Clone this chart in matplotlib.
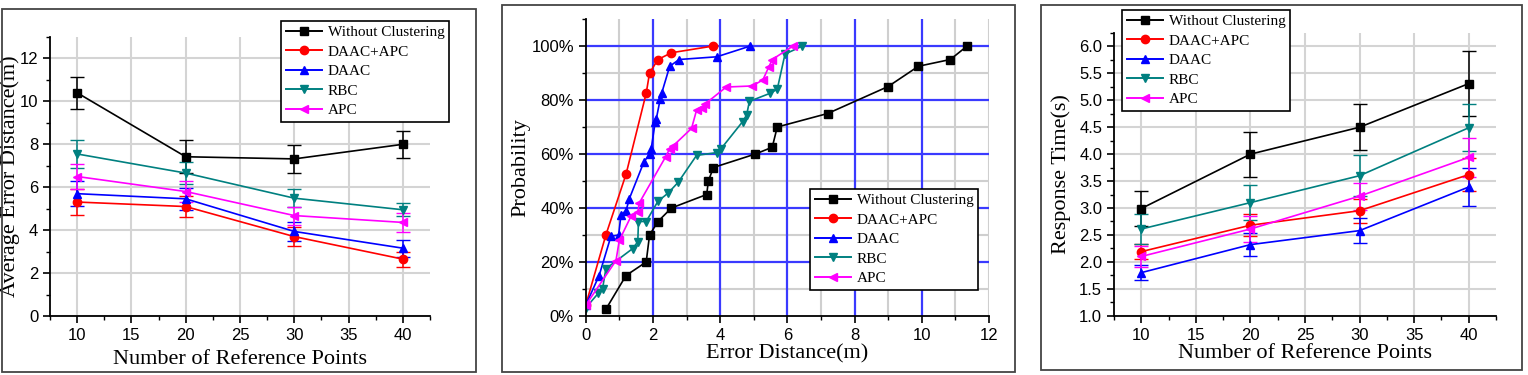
import matplotlib
matplotlib.use("Agg")
import matplotlib.pyplot as plt
from matplotlib.lines import Line2D
from matplotlib.patches import Rectangle
from matplotlib.ticker import MultipleLocator, PercentFormatter

# ---- data ---------------------------------------------------------------
ref_points = [10, 20, 30, 40]
labels = ["Without Clustering", "DAAC+APC", "DAAC", "RBC", "APC"]

# panel 1: average error distance (m)
err_mean = {
    "Without Clustering": [10.4, 7.42, 7.32, 8.0],
    "DAAC+APC":           [5.31, 5.1, 3.7, 2.65],
    "DAAC":               [5.7, 5.46, 3.94, 3.16],
    "RBC":                [7.55, 6.66, 5.49, 4.95],
    "APC":                [6.5, 5.8, 4.68, 4.36],
}
err_sd = {
    "Without Clustering": [0.74, 0.78, 0.67, 0.63],
    "DAAC+APC":           [0.59, 0.5, 0.43, 0.35],
    "DAAC":               [0.57, 0.5, 0.45, 0.39],
    "RBC":                [0.67, 0.5, 0.42, 0.3],
    "APC":                [0.6, 0.47, 0.42, 0.45],
}

# panel 2: CDF of error distance
cdf_x = {
    "Without Clustering": [0.6, 1.2, 1.8, 1.9, 2.15, 2.55, 3.6, 3.65, 3.8, 5.05, 5.55, 5.7,
                           7.2, 9.0, 9.9, 10.85, 11.35],
    "DAAC+APC": [0.0, 0.6, 1.2, 1.8, 1.9, 2.15, 2.55, 3.8],
    "DAAC": [0.0, 0.4, 0.75, 0.98, 1.05, 1.2, 1.3, 1.73, 1.9, 1.95, 2.07, 2.1, 2.22, 2.26,
             2.5, 2.78, 3.9, 4.9],
    "RBC": [0.0, 0.38, 0.5, 0.6, 1.4, 1.55, 1.57, 1.8, 2.15, 2.45, 2.75, 3.3, 3.9, 4.03,
            4.67, 4.79, 4.87, 5.49, 5.7, 5.93, 6.45],
    "APC": [0.0, 0.9, 1.0, 1.35, 1.55, 1.6, 2.38, 2.5, 2.6, 3.15, 3.3, 3.45, 3.55, 4.18,
            4.95, 5.27, 5.45, 5.55, 6.17],
}
cdf_p = {
    "Without Clustering": [2.5, 15, 20, 30, 35, 40, 45, 50, 55, 60, 62.5, 70, 75, 85, 92.5,
                           95, 100],
    "DAAC+APC": [4, 30, 52.5, 82.5, 90, 95, 97.5, 100],
    "DAAC": [4, 15, 29.5, 30, 37.5, 39, 43.5, 57, 60, 62, 72, 73, 80.5, 82.5, 92.5, 95, 96,
             100],
    "RBC": [3, 8.5, 10, 17.5, 25, 27.5, 35, 35, 42.5, 45.5, 49.5, 59.5, 60.5, 62, 72, 74.5,
            79.5, 82.5, 84, 97, 100],
    "APC": [4, 20.5, 28, 37, 38.5, 42, 59, 62, 63, 69.5, 76.3, 77, 78.5, 84.8, 85.2, 87.4,
            92.3, 95, 100],
}

# panel 3: response time (s)
rt_mean = {
    "Without Clustering": [2.99, 4.0, 4.5, 5.31],
    "DAAC+APC":           [2.19, 2.68, 2.95, 3.62],
    "DAAC":               [1.8, 2.32, 2.58, 3.39],
    "RBC":                [2.61, 3.1, 3.6, 4.49],
    "APC":                [2.1, 2.61, 3.22, 3.94],
}
rt_sd = {
    "Without Clustering": [0.33, 0.42, 0.43, 0.61],
    "DAAC+APC":           [0.14, 0.2, 0.22, 0.3],
    "DAAC":               [0.14, 0.21, 0.23, 0.35],
    "RBC":                [0.27, 0.32, 0.38, 0.44],
    "APC":                [0.2, 0.25, 0.25, 0.36],
}

colors = {"Without Clustering": "black", "DAAC+APC": "#ff0000", "DAAC": "#0000ff",
          "RBC": "#008080", "APC": "#ff00ff"}
markers = {"Without Clustering": "s", "DAAC+APC": "o", "DAAC": "^", "RBC": "v", "APC": "<"}

SERIF = "Liberation Serif"
SANS = "Liberation Sans"
W, H = 1528, 375
MS = 6


def fig_rect(l, t, r, b):
    return [l / W, 1 - b / H, (r - l) / W, (b - t) / H]


def style_axes(ax):
    for s in ("top", "right"):
        ax.spines[s].set_visible(False)
    for s in ("left", "bottom"):
        ax.spines[s].set_linewidth(1.3)
    ax.tick_params(which="major", direction="out", length=5, width=1.2, labelsize=12)
    ax.tick_params(which="minor", direction="out", length=3, width=1.0)
    for lab in ax.get_xticklabels() + ax.get_yticklabels():
        lab.set_fontfamily(SANS)
    ax.set_axisbelow(True)


def add_legend(fig, ax, x, y):
    handles = [Line2D([], [], color=colors[l], marker=markers[l], ms=MS, lw=1.4)
               for l in labels]
    leg = ax.legend(handles, labels, loc="upper left", bbox_to_anchor=(x / W, 1 - y / H),
                    bbox_transform=fig.transFigure, prop={"family": SERIF, "size": 11},
                    fancybox=False, framealpha=1, edgecolor="black", handlelength=2.4,
                    handletextpad=0.35, labelspacing=0.38, borderpad=0.3, borderaxespad=0)
    leg.get_frame().set_linewidth(1.2)


fig = plt.figure(figsize=(W / 100, H / 100), dpi=100)

# panel frames
for l, t, r, b in [(2, 9, 476, 372), (502, 5, 1015, 372), (1041, 5, 1522, 370)]:
    fig.patches.append(Rectangle((l / W, 1 - b / H), (r - l) / W, (b - t) / H,
                                 transform=fig.transFigure, fill=False,
                                 edgecolor="#444444", linewidth=1.3))

# ---- panel 1 ------------------------------------------------------------
ax1 = fig.add_axes(fig_rect(50, 37, 430, 316))
for lab in labels:
    ax1.errorbar(ref_points, err_mean[lab], yerr=err_sd[lab], color=colors[lab],
                 marker=markers[lab], ms=MS, lw=1.2, capsize=5, elinewidth=1.1, label=lab)
ax1.set_xlim(7.5, 42.5)
ax1.set_ylim(0, 13)
ax1.xaxis.set_major_locator(MultipleLocator(5))
ax1.xaxis.set_minor_locator(MultipleLocator(2.5))
ax1.yaxis.set_major_locator(MultipleLocator(2))
ax1.yaxis.set_minor_locator(MultipleLocator(1))
ax1.grid(True, which="major", color="#d4d4d4", lw=1.5)
style_axes(ax1)
ax1.set_xlabel("Number of Reference Points", family=SERIF, fontsize=16, labelpad=5)
ax1.set_ylabel("Average Error Distance(m)", family=SERIF, fontsize=16)
ax1.yaxis.set_label_coords(-30 / 380, 0.5)
add_legend(fig, ax1, 281, 21)

# ---- panel 2 ------------------------------------------------------------
ax2 = fig.add_axes(fig_rect(585.7, 19, 989, 316))
for xv in [1, 3, 5, 7, 9, 11, 12]:
    ax2.axvline(xv, color="#cfcfcf", lw=1.5, zorder=0)
for yv in [10, 30, 50, 70, 90]:
    ax2.axhline(yv, color="#cfcfcf", lw=1.5, zorder=0)
for xv in [2, 4, 6, 8, 10]:
    ax2.axvline(xv, color="#3a3aff", lw=1.6, zorder=0.5)
for yv in [20, 40, 60, 80, 100]:
    ax2.axhline(yv, color="#3a3aff", lw=1.6, zorder=0.5)
for lab in labels:
    ax2.plot(cdf_x[lab], cdf_p[lab], color=colors[lab], marker=markers[lab], ms=MS, lw=1.2,
             label=lab)
ax2.set_xlim(0, 12)
ax2.set_ylim(0, 110)
ax2.xaxis.set_major_locator(MultipleLocator(2))
ax2.xaxis.set_minor_locator(MultipleLocator(1))
ax2.set_yticks([0, 20, 40, 60, 80, 100])
ax2.yaxis.set_minor_locator(MultipleLocator(10))
ax2.yaxis.set_major_formatter(PercentFormatter(decimals=0))
style_axes(ax2)
ax2.set_xlabel("Error Distance(m)", family=SERIF, fontsize=16, labelpad=1)
ax2.set_ylabel("Probability", family=SERIF, fontsize=16)
ax2.yaxis.set_label_coords(-55 / 403, 0.5)
add_legend(fig, ax2, 810, 189)

# ---- panel 3 ------------------------------------------------------------
ax3 = fig.add_axes(fig_rect(1114, 33, 1496, 315.7))
for lab in labels:
    ax3.errorbar(ref_points, rt_mean[lab], yerr=rt_sd[lab], color=colors[lab],
                 marker=markers[lab], ms=MS, lw=1.2, capsize=5, elinewidth=1.1, label=lab)
ax3.set_xlim(7.5, 42.5)
ax3.set_ylim(1.0, 6.25)
ax3.xaxis.set_major_locator(MultipleLocator(5))
ax3.xaxis.set_minor_locator(MultipleLocator(2.5))
ax3.set_yticks([1.0, 1.5, 2.0, 2.5, 3.0, 3.5, 4.0, 4.5, 5.0, 5.5, 6.0])
ax3.yaxis.set_minor_locator(MultipleLocator(0.25))
ax3.grid(True, which="major", color="#d4d4d4", lw=1.5)
style_axes(ax3)
ax3.set_xlabel("Number of Reference Points", family=SERIF, fontsize=16, labelpad=1)
ax3.set_ylabel("Response Time(s)", family=SERIF, fontsize=16)
ax3.yaxis.set_label_coords(-43 / 382, 0.5)
add_legend(fig, ax3, 1122, 10)

fig.savefig("out.png", dpi=100)
